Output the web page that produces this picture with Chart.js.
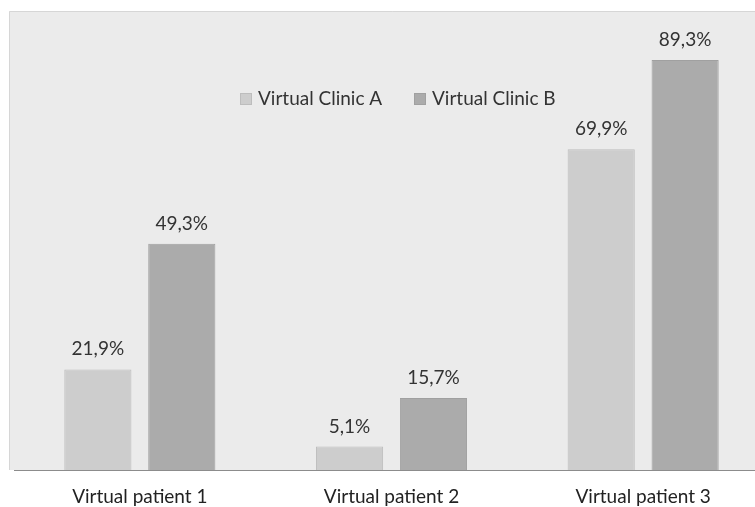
<!DOCTYPE html>
<html>
<head>
<meta charset="utf-8">
<script src="https://cdn.jsdelivr.net/npm/chart.js@4/dist/chart.umd.min.js"></script>
<style>
  html, body { margin: 0; padding: 0; background: #fff; overflow: hidden; }
  #wrap { width: 755px; height: 507px; overflow: hidden; }
  #wrap div { width: 776px; height: 507px; }
</style>
</head>
<body>
<div id="wrap"><div><canvas id="chart_1"></canvas></div></div>
<script>
let categories = ['Virtual patient 1', 'Virtual patient 2', 'Virtual patient 3'];
let clinicA = [21.9, 5.1, 69.9];
let clinicB = [49.3, 15.7, 89.3];
let seriesNames = ['Virtual Clinic A', 'Virtual Clinic B'];

let fontName = 'Lato, "Noto Sans", sans-serif';

// grey plot background, a bit wider than the chart area like in the original
let plotBg = {
    id: 'plotBg',
    beforeDraw(chart) {
        let ctx = chart.ctx, a = chart.chartArea;
        ctx.save();
        ctx.fillStyle = '#ebebeb';
        ctx.fillRect(9, a.top, chart.width - 9, a.bottom - a.top);
        ctx.strokeStyle = '#d6d6d6';
        ctx.lineWidth = 1;
        ctx.beginPath();
        ctx.moveTo(9.5, a.bottom);
        ctx.lineTo(9.5, a.top + 0.5);
        ctx.lineTo(chart.width, a.top + 0.5);
        ctx.stroke();
        ctx.restore();
    }
};

// values above the bars
let barLabels = {
    id: 'barLabels',
    afterDatasetsDraw(chart) {
        let ctx = chart.ctx;
        ctx.save();
        ctx.font = '19px ' + fontName;
        ctx.fillStyle = '#333';
        ctx.textAlign = 'center';
        ctx.textBaseline = 'alphabetic';
        chart.data.datasets.forEach((ds, i) => {
            chart.getDatasetMeta(i).data.forEach((bar, j) => {
                let txt = ds.data[j].toFixed(1).replace('.', ',') + '%';
                ctx.fillText(txt, bar.x, bar.y - 14);
            });
        });
        ctx.restore();
    }
};

// legend sitting inside the plot area
let innerLegend = {
    id: 'innerLegend',
    afterDraw(chart) {
        let ctx = chart.ctx;
        let xs = [240, 414];
        let y = 99;
        ctx.save();
        ctx.font = '19px ' + fontName;
        ctx.textBaseline = 'middle';
        chart.data.datasets.forEach((ds, i) => {
            ctx.fillStyle = ds.backgroundColor;
            ctx.fillRect(xs[i], y - 6, 12, 12);
            ctx.strokeStyle = ds.borderColor;
            ctx.strokeRect(xs[i] + 0.5, y - 5.5, 11, 11);
            ctx.fillStyle = '#333';
            ctx.fillText(ds.label, xs[i] + 18, y);
        });
        ctx.restore();
    }
};

var chart1 = new Chart(document.getElementById('chart_1'), {
    type: 'bar',
    data: {
        labels: categories,
        datasets: [
            {
                label: seriesNames[0],
                data: clinicA,
                backgroundColor: '#cdcdcd',
                borderColor: '#bdbdbd',
                borderWidth: 1,
                borderSkipped: 'bottom'
            },
            {
                label: seriesNames[1],
                data: clinicB,
                backgroundColor: '#ababab',
                borderColor: '#a0a0a0',
                borderWidth: 1,
                borderSkipped: 'bottom'
            }
        ]
    },
    options: {
        responsive: true,
        maintainAspectRatio: false,
        animation: false,
        categoryPercentage: 0.667,
        barPercentage: 0.8,
        layout: {
            padding: { left: 14, right: 7, top: 11, bottom: 0 }
        },
        plugins: {
            legend: { display: false },
            tooltip: { enabled: false }
        },
        scales: {
            y: {
                display: false,
                min: 0,
                max: 100
            },
            x: {
                grid: { display: false, drawTicks: false },
                border: { display: true, color: '#8c8c8c', width: 1 },
                ticks: {
                    color: '#222',
                    font: { family: fontName, size: 19 },
                    padding: 15,
                    maxRotation: 0
                },
                afterFit(scale) { scale.height = 37; }
            }
        }
    },
    plugins: [plotBg, barLabels, innerLegend]
});
</script>
</body>
</html>
